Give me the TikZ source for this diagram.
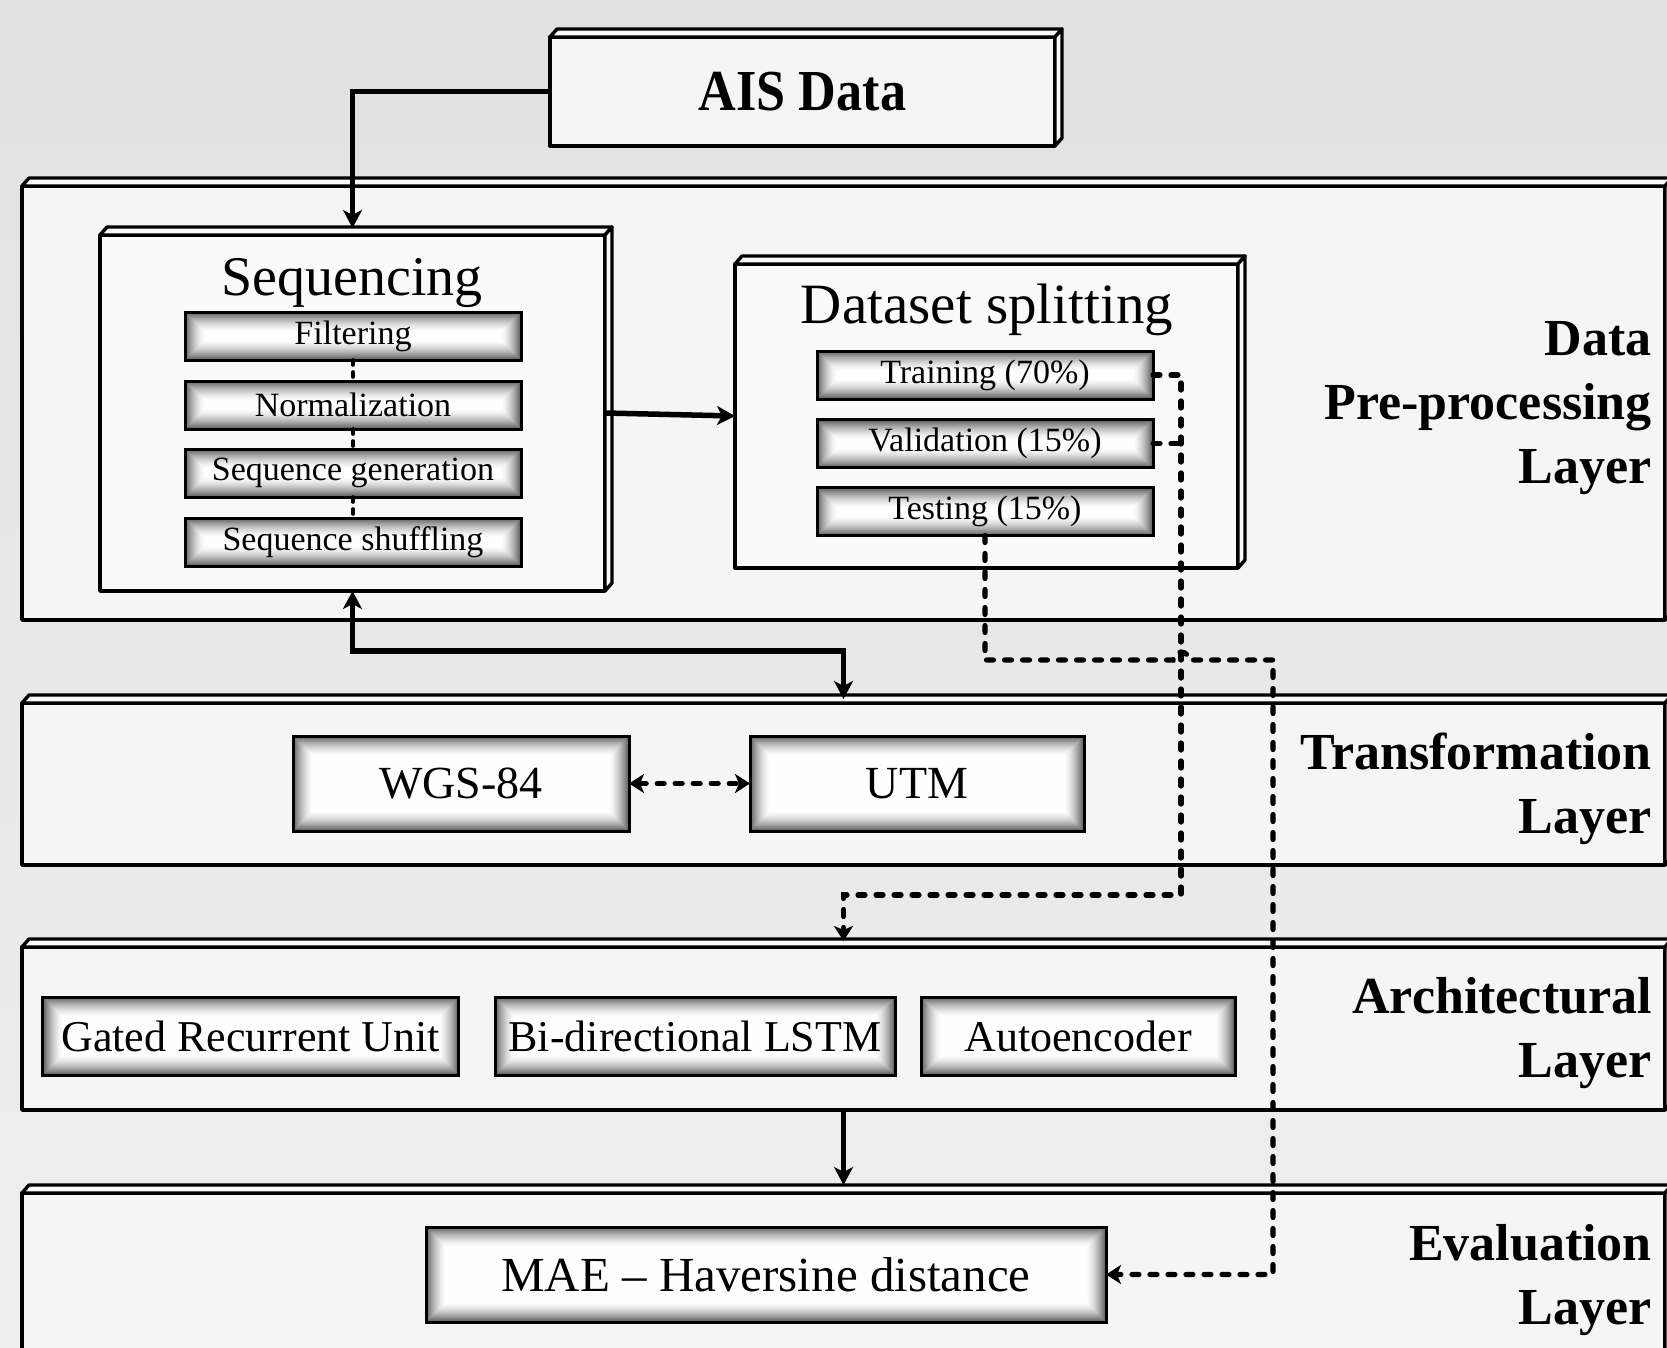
\documentclass[tikz,border=0pt]{standalone}
\usepackage{fontspec}
\setmainfont{Liberation Serif}
\usetikzlibrary{arrows.meta,calc}

\definecolor{bgtop}{HTML}{E1E1E1}
\definecolor{bgbot}{HTML}{EFEFEF}
\definecolor{panel}{HTML}{F5F5F5}
\definecolor{facecol}{HTML}{FAFAFA}

\tikzset{
  cube/.style={draw=black, line width=3.4pt, fill=panel, outer sep=0pt, inner sep=0pt, line join=round},
  face/.style={draw=black, line width=3.4pt, fill=facecol, line join=round},
  pane/.style={draw=black, line width=3pt, outer sep=0pt, inner sep=0pt, fill=white,
    path picture={
      \foreach \i in {0,...,19}{
        \pgfmathsetmacro\dk{62*(1-\i/20)^1.6}
        \fill[black!\dk] ([shift={(\i*1pt,-\i*1pt)}]path picture bounding box.north west)
          rectangle ([shift={(-\i*1pt,\i*1pt)}]path picture bounding box.south east);
      }}},
  hd/.tip={Stealth[length=18pt,width=19pt,inset=5pt]},
  dhd/.tip={Stealth[length=15pt,width=19pt,inset=4pt]},
  solidline/.style={line width=5.5pt, line join=miter},
  dotline/.style={line width=5.2pt, line cap=round, dash pattern=on 7pt off 11pt},
  smalldots/.style={line width=3.6pt, line cap=round, dash pattern=on 5pt off 7pt},
  small/.style={font=\fontsize{34}{40}\selectfont},
  mid/.style={font=\fontsize{44}{50}\selectfont},
  title/.style={anchor=base, inner sep=0pt},
  layerlabel/.style={anchor=base east, inner sep=0pt, font=\bfseries\fontsize{52}{64}\selectfont},
}

% top and right faces of a box drawn in perspective
\newcommand\cubefaces[1]{%
  \filldraw[face] (#1.north west) -- ++(7,-8) -- ($(#1.north east)+(7,-8)$) -- (#1.north east) -- cycle;
  \filldraw[face] (#1.north east) -- ++(7,-8) -- ($(#1.south east)+(7,-8)$) -- (#1.south east) -- cycle;}

\begin{document}
\begin{tikzpicture}[x=1pt, y=-1pt]
\useasboundingbox (0,0) rectangle (1667,1348);
\clip (0,0) rectangle (1667,1348);
\shade[top color=bgtop, bottom color=bgbot] (0,0) rectangle (1667,1348);

% layers
\node[cube, minimum width=1643, minimum height=434] (l1) at (843.5,403) {};
\cubefaces{l1}
\node[cube, minimum width=1643, minimum height=162] (l2) at (843.5,784) {};
\cubefaces{l2}
\node[cube, minimum width=1643, minimum height=163] (l3) at (843.5,1028.5) {};
\cubefaces{l3}
\node[cube, minimum width=1643, minimum height=187] (l4) at (843.5,1286.5) {};
\cubefaces{l4}

% source
\node[cube, minimum width=505, minimum height=109, font=\bfseries\fontsize{58}{64}\selectfont] (ais) at (802.5,91.5) {\scalebox{0.9}[1]{AIS Data}};
\cubefaces{ais}

% sequencing block
\node[cube, fill=facecol, minimum width=505, minimum height=356] (seq) at (352.5,413) {};
\cubefaces{seq}
\node[title, font=\fontsize{56}{60}\selectfont] (seqt) at (352,295) {Sequencing};
\node[pane, small, minimum width=336, minimum height=48] (filt) at (353,336) {Filtering};
\node[pane, small, minimum width=336, minimum height=48] (norm) at (353,405) {Normalization};
\node[pane, small, minimum width=336, minimum height=48] (sgen) at (353,473) {Sequence generation};
\node[pane, small, minimum width=336, minimum height=48] (sshf) at (353,542) {Sequence shuffling};
\draw[smalldots] (filt.south) -- (norm.north);
\draw[smalldots] (norm.south) -- (sgen.north);
\draw[smalldots] (sgen.south) -- (sshf.north);

% dataset splitting block
\node[cube, fill=facecol, minimum width=503, minimum height=304] (ds) at (986.5,416) {};
\cubefaces{ds}
\node[title, font=\fontsize{57}{60}\selectfont] (dst) at (987,323) {Dataset splitting};
\node[pane, small, minimum width=336, minimum height=48] (train) at (985,375) {Training (70\%)};
\node[pane, small, minimum width=336, minimum height=48] (val) at (985,443.5) {Validation (15\%)};
\node[pane, small, minimum width=336, minimum height=48] (test) at (985,511.5) {Testing (15\%)};

% transformation layer
\node[pane, font=\fontsize{46}{52}\selectfont, minimum width=336, minimum height=95] (wgs) at (461,783.5) {WGS-84};
\node[pane, font=\fontsize{46}{52}\selectfont, minimum width=334, minimum height=95] (utm) at (917,783.5) {UTM};

% architectural layer
\node[pane, mid, minimum width=416, minimum height=78] (gru) at (250.75,1036) {Gated Recurrent Unit};
\node[pane, mid, minimum width=400, minimum height=78] (bil) at (695,1036) {Bi-directional LSTM};
\node[pane, mid, minimum width=314, minimum height=78] (aut) at (1078,1036) {Autoencoder};

% evaluation layer
\node[pane, font=\fontsize{49}{56}\selectfont, minimum width=680, minimum height=95] (mae) at (766,1274.5) {MAE \textendash{} Haversine distance};

% solid connectors
\draw[solidline, -hd] (ais.west) -| ([yshift=7pt]seq.north);
\draw[solidline, -hd] (seq.east) -- (ds.west);
\coordinate (sj) at (352.5,651);
\draw[solidline, hd-hd] (seq.south) -- (sj) -| ([yshift=4pt]l2.north);
\draw[solidline, -hd] (l3.south) -- ([yshift=8pt]l4.north);

% dotted connectors
\draw[dotline, dhd-dhd] (wgs.east) -- (utm.west);
\coordinate (tj) at (1181,375);
\coordinate (vj) at (1181,443.5);
\coordinate (aj) at (1181,895);
\draw[dotline, -dhd] (train.east) -- (tj) -- (aj) -| ([yshift=6pt]l3.north);
\draw[dotline] (val.east) -- (vj);
\coordinate (hopa) at (1173,660);
\coordinate (ej) at (1273,660);
\draw[dotline, -dhd] (test.south) |- (hopa) arc[start angle=180, end angle=360, radius=8] -- (ej) |- (mae.east);

% layer names
\node[layerlabel] (l1a) at (1652,355) {Data};
\node[layerlabel] (l1b) at (1652,419) {Pre-processing};
\node[layerlabel] (l1c) at (1652,483) {Layer};
\node[layerlabel] (l2a) at (1652,769) {Transformation};
\node[layerlabel] (l2b) at (1652,833) {Layer};
\node[layerlabel] (l3a) at (1652,1013) {Architectural};
\node[layerlabel] (l3b) at (1652,1077) {Layer};
\node[layerlabel] (l4a) at (1652,1260) {Evaluation};
\node[layerlabel] (l4b) at (1652,1324) {Layer};
\end{tikzpicture}
\end{document}
